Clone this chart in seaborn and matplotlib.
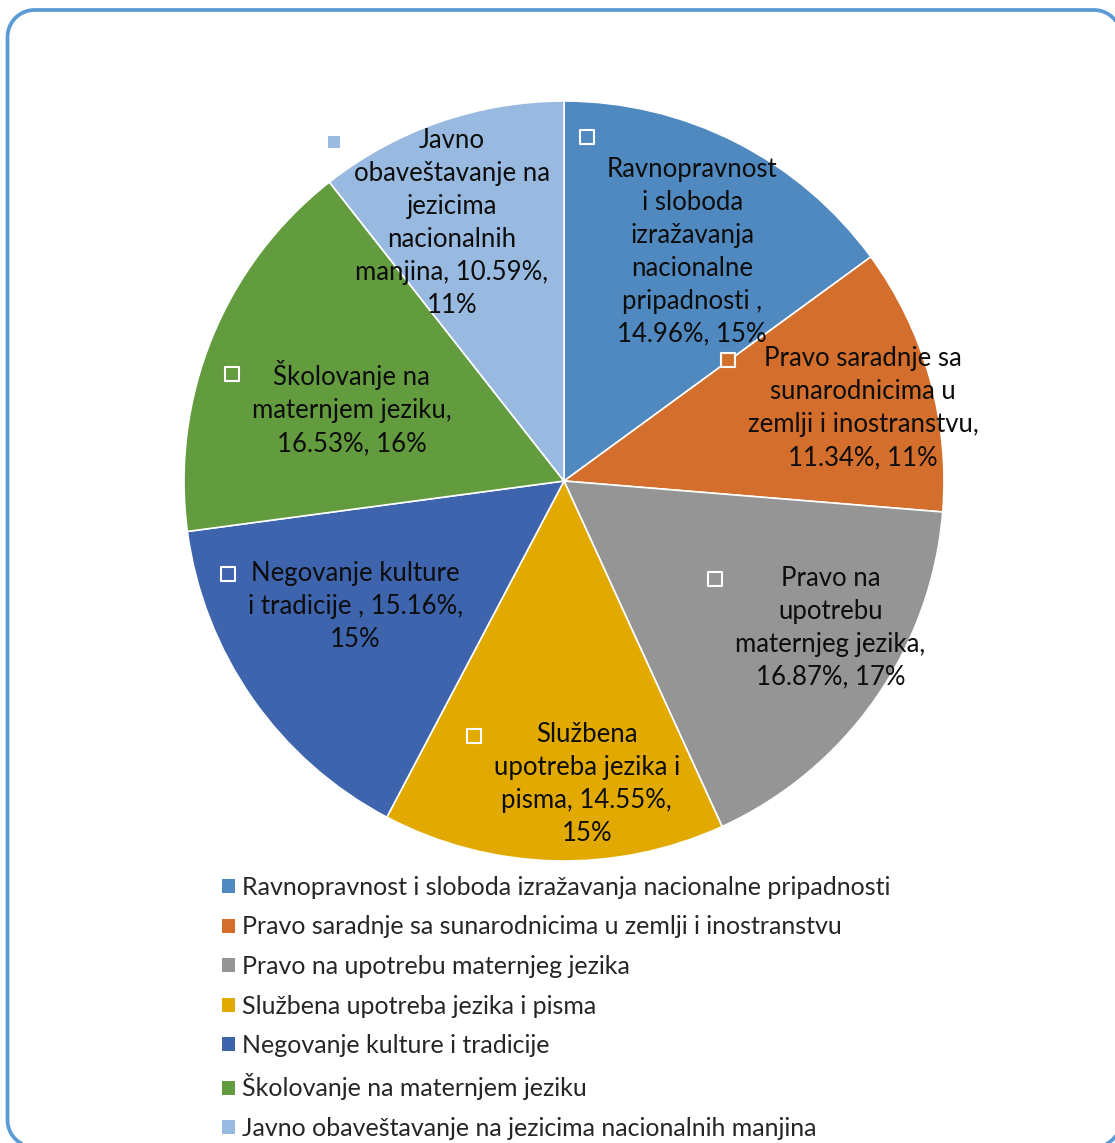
import numpy as np
import matplotlib
matplotlib.use("Agg")
import matplotlib.pyplot as plt
import seaborn as sns
from matplotlib.patches import Patch, Polygon

# ---- data -------------------------------------------------------------
categories = [
    "Ravnopravnost i sloboda izražavanja nacionalne pripadnosti ",
    "Pravo saradnje sa sunarodnicima u zemlji i inostranstvu",
    "Pravo na upotrebu maternjeg jezika",
    "Službena upotreba jezika i pisma",
    "Negovanje kulture i tradicije ",
    "Školovanje na maternjem jeziku",
    "Javno obaveštavanje na jezicima nacionalnih manjina",
]
values = [14.96, 11.34, 16.87, 14.55, 15.16, 16.53, 10.59]
share_rounded = [15, 11, 17, 15, 15, 16, 11]

# wrapped data-label layouts ({v} = value, {s} = rounded share)
label_templates = [
    "\nRavnopravnost\ni sloboda\nizražavanja\nnacionalne\npripadnosti ,\n{v}, {s}",
    "Pravo saradnje sa\nsunarodnicima u\nzemlji i inostranstvu,\n{v}, {s}",
    "Pravo na\nupotrebu\nmaternjeg jezika,\n{v}, {s}",
    "Službena\nupotreba jezika i\npisma, {v},\n{s}",
    "Negovanje kulture\ni tradicije , {v},\n{s}",
    "Školovanje na\nmaternjem jeziku,\n{v}, {s}",
    "Javno\nobaveštavanje na\njezicima\nnacionalnih\nmanjina, {v},\n{s}",
]

# ---- style ------------------------------------------------------------
colors = ["#4F89BF", "#D36E2C", "#959595", "#E2AA00", "#3D64AD", "#639B3F", "#98B9E0"]
label_r = [0.73, 0.81, 0.80, 0.80, 0.64, 0.59, 0.74]     # radial position of data labels
label_dang = [0.6, 2.1, -6.2, -5.9, 3.9, -3.2, -4.4]     # clockwise angular nudge (deg)
FS_LABEL = 18.5
FS_LEGEND = 18

sns.set_theme(style="white")
plt.rcParams["font.family"] = ["Lato", "DejaVu Sans"]
palette = sns.color_palette(colors)

W, H = 1115, 1143
fig = plt.figure(figsize=(W / 100, H / 100), dpi=100)
fig.patch.set_facecolor("white")

# pie area
cx, cy, R = 564, 481, 380
ax = fig.add_axes([(cx - R) / W, 1 - (cy + R) / H, 2 * R / W, 2 * R / H])
wedges, _ = ax.pie(values, colors=palette, startangle=90, counterclock=False,
                   wedgeprops=dict(edgecolor="white", linewidth=1.2))
ax.set_xlim(-1, 1)
ax.set_ylim(-1, 1)
ax.axis("off")

texts = []
for i, w in enumerate(wedges):
    mid = np.deg2rad((w.theta1 + w.theta2) / 2 - label_dang[i])
    txt = label_templates[i].format(v=f"{values[i]:.2f}%", s=f"{share_rounded[i]}%")
    t = ax.text(label_r[i] * np.cos(mid), label_r[i] * np.sin(mid), txt,
                ha="center", va="center", multialignment="center",
                fontsize=FS_LABEL, linespacing=1.4, color="#0d0d0d")
    texts.append(t)

# legend-key squares at the top-left of each data label
fig.canvas.draw()
renderer = fig.canvas.get_renderer()
inv = ax.transData.inverted()
for i, t in enumerate(texts):
    bb = t.get_window_extent(renderer)
    nlines = t.get_text().count("\n") + 1
    lh = bb.height / nlines
    px, py = bb.x0 - 20, bb.y1 - lh / 2 + 2
    mx, my = inv.transform((px, py))
    ax.scatter([mx], [my], marker="s", s=105, color=palette[i],
               edgecolor="white", linewidth=1.5, zorder=5, clip_on=False)

# legend below the pie
handles = [Patch(facecolor=c, edgecolor="none") for c in palette]
fig.legend(handles, [c.strip() for c in categories], loc="upper left",
           bbox_to_anchor=(222 / W, 1 - 876 / H), frameon=False, fontsize=FS_LEGEND,
           handlelength=0.5, handleheight=0.5, handletextpad=0.3,
           labelspacing=0.66, borderpad=0, borderaxespad=0)

# rounded chart-area border (pixel units, y measured from the bottom)
x0, x1, y0, y1, rad = 7.5, 1121, -4, 1133, 27
ang = np.linspace(0, np.pi / 2, 20)
pts = []
for (ccx, ccy, a0) in [(x1 - rad, y1 - rad, 0.0), (x0 + rad, y1 - rad, np.pi / 2),
                       (x0 + rad, y0 + rad, np.pi), (x1 - rad, y0 + rad, 1.5 * np.pi)]:
    a = a0 + ang
    pts.extend(zip(ccx + rad * np.cos(a), ccy + rad * np.sin(a)))
pts = np.array(pts) / 100.0
border = Polygon(pts, closed=True, transform=fig.dpi_scale_trans, facecolor="none",
                 edgecolor="#5B9BD5", linewidth=2.7, clip_on=False)
fig.add_artist(border)

fig.savefig("out.png", dpi=100, facecolor="white")
